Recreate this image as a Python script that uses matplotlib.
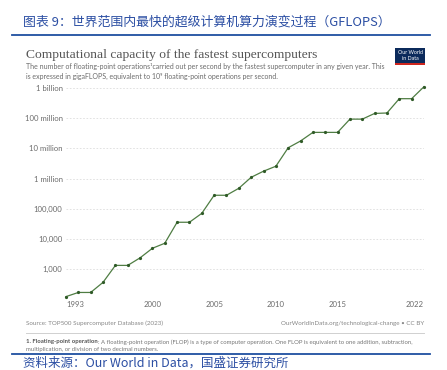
import numpy as np
import matplotlib.pyplot as plt
from matplotlib.patches import Rectangle
from matplotlib.lines import Line2D

# Fastest supercomputer per year, GFLOPS
years = list(range(1993, 2023))
gflops = [124, 170, 170, 368, 1338, 1338, 2380, 4938, 7226, 35860,
          35860, 70720, 280600, 280600, 478200, 1105000, 1759000, 2566000,
          10510000, 17590000, 33860000, 33860000, 33860000, 93010000,
          93010000, 143500000, 148600000, 442000000, 442000000, 1102000000]

ytick_vals = [1e3, 1e4, 1e5, 1e6, 1e7, 1e8, 1e9]
ytick_labels = ["1,000", "10,000", "100,000", "1 million", "10 million",
                "100 million", "1 billion"]
xtick_vals = [1993, 2000, 2005, 2010, 2015, 2022]

W, H = 447, 370
fig = plt.figure(figsize=(W / 100, H / 100), dpi=100)
fig.patch.set_facecolor("white")


def fx(px):
    return px / W


def fy(py):
    return 1 - py / H


blue = "#2b4ea3"
grey = "#6b6b6b"
cjk = ["Noto Sans CJK SC", "DejaVu Sans"]
sans = ["Lato", "DejaVu Sans"]

# report header
fig.text(fx(23), fy(22), "图表 9：世界范围内最快的超级计算机算力演变过程（GFLOPS）",
         family=cjk, fontsize=9.3, color=blue, va="center")
fig.add_artist(Line2D([fx(12), fx(430)], [fy(35), fy(35)], color="#1f4fa0", lw=1.3))

# chart title and subtitle
fig.text(fx(26), fy(55), "Computational capacity of the fastest supercomputers",
         family=["Liberation Serif"], fontsize=9.7, color="#555555", va="center")
fig.text(fx(26), fy(67), "The number of floating-point operations\u00b9carried out per second "
         "by the fastest supercomputer in any given year. This",
         family=sans, fontsize=5.0, color=grey, va="center")
fig.text(fx(26), fy(76), "is expressed in gigaFLOPS, equivalent to 10\u2079 floating-point "
         "operations per second.",
         family=sans, fontsize=5.0, color=grey, va="center")

# logo
fig.add_artist(Rectangle((fx(395), fy(65)), fx(30), fy(48) - fy(65),
                         facecolor="#0b2a5b", edgecolor="none"))
fig.add_artist(Rectangle((fx(395), fy(65)), fx(30), fy(63) - fy(65),
                         facecolor="#ce261e", edgecolor="none"))
fig.text(fx(410), fy(55.5), "Our World\nin Data", family=sans, fontsize=3.8,
         color="white", ha="center", va="center", linespacing=1.0)

# plot area
ax = fig.add_axes([fx(66), fy(296.6), fx(424) - fx(66), fy(86.7) - fy(296.6)])
ax.set_yscale("log")
ax.plot(years, gflops, color="#4f7d43", lw=0.9, marker="o", ms=1.3,
        mfc="#2f5a27", mec="#2f5a27", clip_on=False, zorder=3)
ax.set_xlim(years[0], years[-1])
ax.set_ylim(min(gflops), max(gflops))
for s in ax.spines.values():
    s.set_visible(False)
ax.set_yticks(ytick_vals)
ax.set_yticklabels(ytick_labels)
ax.minorticks_off()
ax.set_xticks(xtick_vals)
ax.set_xticklabels([str(y) for y in xtick_vals])
ax.tick_params(axis="y", length=0, pad=2.5, labelsize=5.6, labelcolor=grey)
ax.tick_params(axis="x", length=0, pad=3.5, labelsize=5.6, labelcolor=grey)
for lab in ax.get_xticklabels() + ax.get_yticklabels():
    lab.set_family(sans)
ax.get_xticklabels()[0].set_ha("left")
ax.get_xticklabels()[-1].set_ha("right")
ax.grid(axis="y", color="#dddddd", lw=0.6, ls=(0, (2, 2)))
ax.set_axisbelow(True)

# footer
fig.text(fx(26), fy(323), "Source: TOP500 Supercomputer Database (2023)",
         family=sans, fontsize=4.5, color="#888888", va="center")
fig.text(fx(424), fy(323), "OurWorldInData.org/technological-change \u2022 CC BY",
         family=sans, fontsize=4.5, color="#888888", va="center", ha="right")
fig.add_artist(Line2D([fx(26), fx(424)], [fy(333), fy(333)], color="#d0d0d0", lw=0.7))

b = fig.text(fx(26), fy(342), "1. Floating-point operation", family=sans,
             fontsize=4.3, color="#555555", weight="bold", va="center")
r = fig.canvas.get_renderer()
bx = b.get_window_extent(r).x1 / W
fig.text(bx, fy(342), ": A floating-point operation (FLOP) is a type of computer operation. "
         "One FLOP is equivalent to one addition, subtraction,",
         family=sans, fontsize=4.3, color="#777777", va="center")
fig.text(fx(26), fy(349.5), "multiplication, or division of two decimal numbers.",
         family=sans, fontsize=4.3, color="#777777", va="center")

fig.add_artist(Line2D([fx(12), fx(430)], [fy(354), fy(354)], color="#1f4fa0", lw=1.3))
fig.text(fx(23), fy(369.5), "资料来源：Our World in Data，国盛证券研究所",
         family=cjk, fontsize=9.0, color=blue, va="bottom")

fig.savefig("out.png", dpi=100)
